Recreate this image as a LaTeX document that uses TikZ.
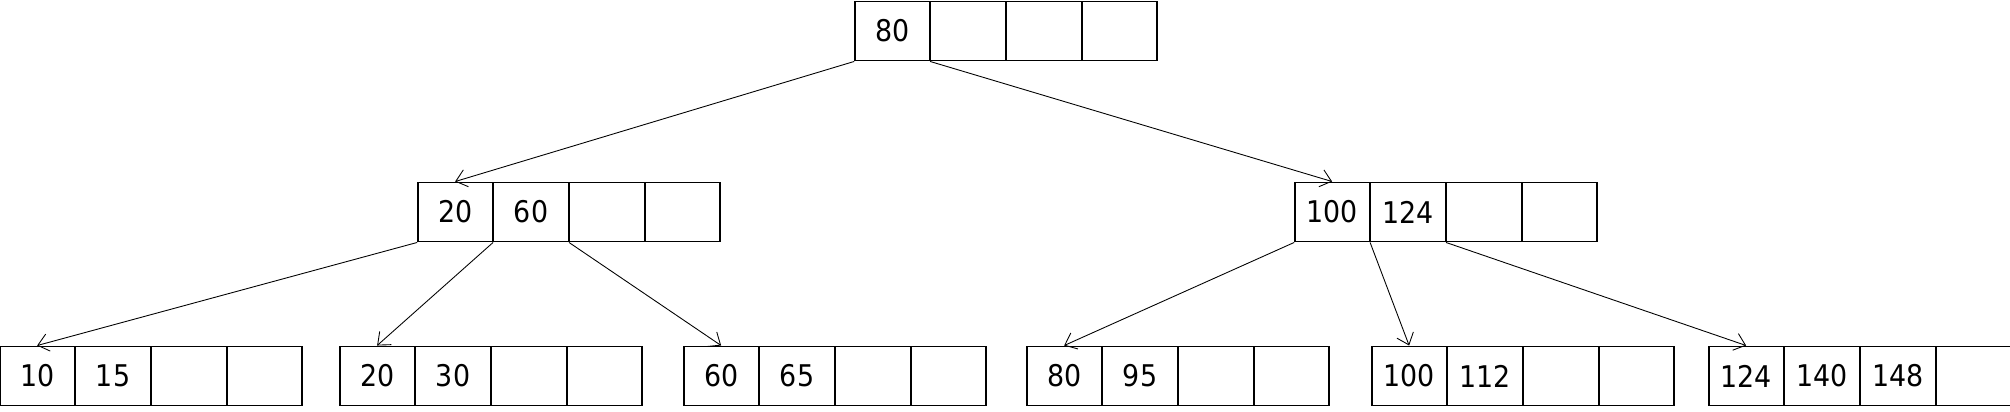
\documentclass[tikz,border=0pt]{standalone}
\usepackage{fontspec}
\setmainfont{DejaVu Sans Condensed}
\usetikzlibrary{arrows.meta,shapes.multipart}

\newlength{\cellw}
\setlength{\cellw}{1.48cm}
\newcommand{\cell}[1]{\makebox[\cellw]{#1}}
\newcommand{\keyrow}[4]{\cell{#1}\nodepart{two}\cell{#2}\nodepart{three}\cell{#3}\nodepart{four}\cell{#4}}

\begin{document}
\begin{tikzpicture}[x=0.02cm, y=-0.02cm, >={Straight Barb[length=6pt,width=10pt]}]

\tikzset{
    btree node/.style={
        draw, line width=1.1pt,
        rectangle split, rectangle split horizontal, rectangle split parts=4,
        inner sep=0pt, minimum height=1.18cm,
        font=\fontsize{17pt}{20pt}\selectfont
    },
    pointer/.style={
        ->, line width=0.5pt
    }
}

% Page
\useasboundingbox (0,0) rectangle (2010,412);

% Root
\node[btree node] (Root) at (1006,31) {\keyrow{80}{}{}{}};

% Inner nodes
\node[btree node] (ML) at (569,212) {\keyrow{20}{60}{}{}};
\node[btree node] (MR) at (1446,212) {\keyrow{100}{124}{}{}};

% Leaves
\node[btree node] (L1) at (151,376) {\keyrow{10}{15}{}{}};
\node[btree node] (L2) at (491,376) {\keyrow{20}{30}{}{}};
\node[btree node] (L3) at (835,376) {\keyrow{60}{65}{}{}};
\node[btree node] (L4) at (1178,376) {\keyrow{80}{95}{}{}};
\node[btree node] (L5) at (1523,376) {\keyrow{100}{112}{}{}};
\node[btree node] (L6) at (1860,376) {\keyrow{124}{140}{148}{}};

% --- POINTERS ---
\draw[pointer] (Root.south west) -- (ML.one north);
\draw[pointer] (Root.one split south) -- (MR.one north);

\draw[pointer] (ML.south west) -- (L1.one north);
\draw[pointer] (ML.one split south) -- (L2.one north);
\draw[pointer] (ML.two split south) -- (L3.one north);

\draw[pointer] (MR.south west) -- (L4.one north);
\draw[pointer] (MR.one split south) -- (L5.one north);
\draw[pointer] (MR.two split south) -- (L6.one north);

\end{tikzpicture}
\end{document}
